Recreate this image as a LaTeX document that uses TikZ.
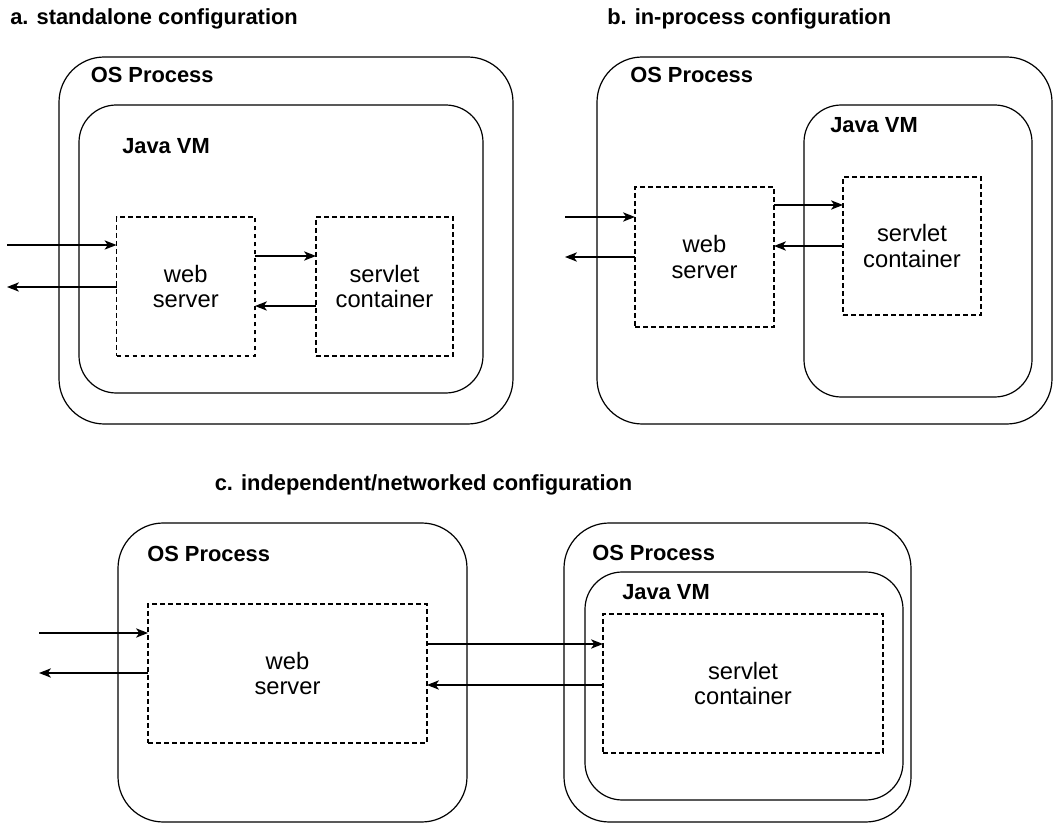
\documentclass[tikz,border=0pt]{standalone}
\usepackage{fontspec}
\setmainfont{Liberation Sans}
\usetikzlibrary{arrows.meta,fit}
\begin{document}
\begin{tikzpicture}[x=0.75pt,y=-0.75pt,
  box/.style={draw, line width=0.9pt, inner sep=0pt, outer sep=0pt},
  osbox/.style={box, rounded corners=34pt},
  vmbox/.style={box, rounded corners=28pt},
  compbox/.style={box, dash pattern=on 3.6pt off 2.4pt},
  title/.style={font=\fontsize{16.4}{19}\selectfont\bfseries, anchor=base west, inner sep=0pt},
  head/.style={title},
  lbl/.style={font=\fontsize{17.8}{18.8}\selectfont, align=center, inner sep=0pt},
  arr/.style={-{Stealth[length=9pt,width=7pt,inset=2.5pt]}, line width=0.9pt}
]
\useasboundingbox (0,0) rectangle (1058,823);

% ---------- panel a ----------
\node[title] (a-t) at (10,25) {a. standalone configuration};
\node[osbox, fit={(59,57) (513,424)}] (a-os) {};
\node[vmbox, fit={(79,105) (483,393)}] (a-vm) {};
\node[compbox, fit={(116.5,217) (255,356)}] (a-ws) {};
\node[compbox, fit={(316,217) (453,356)}] (a-sc) {};
\node[head] (a-osl) at (90.5,83) {OS Process};
\node[head] (a-vml) at (122,154) {Java VM};
\node[lbl] (a-wsl) at (a-ws.center) {web\\server};
\node[lbl] (a-scl) at (a-sc.center) {servlet\\container};
\coordinate (a-in) at (7,245);
\coordinate (a-out) at (7,287);
\draw[arr] (a-in) -- (a-in -| a-ws.west);
\draw[arr] (a-out -| a-ws.west) -- (a-out);
\draw[arr] (a-ws.east |- 0,256) -- (a-sc.west |- 0,256);
\draw[arr] (a-sc.west |- 0,306) -- (a-ws.east |- 0,306);

% ---------- panel b ----------
\node[title] (b-t) at (607,25) {b. in-process configuration};
\node[osbox, fit={(597,57) (1052,424)}] (b-os) {};
\node[vmbox, fit={(804,105) (1032,397)}] (b-vm) {};
\node[compbox, fit={(635,187) (774,327)}] (b-ws) {};
\node[compbox, fit={(843,177) (981,315)}] (b-sc) {};
\node[head] (b-osl) at (630,83) {OS Process};
\node[head] (b-vml) at (830,133) {Java VM};
\node[lbl] (b-wsl) at (b-ws.center) {web\\server};
\node[lbl] (b-scl) at (b-sc.center) {servlet\\container};
\coordinate (b-in) at (565,217);
\coordinate (b-out) at (565,257);
\draw[arr] (b-in) -- (b-in -| b-ws.west);
\draw[arr] (b-out -| b-ws.west) -- (b-out);
\draw[arr] (b-ws.east |- 0,205) -- (b-sc.west |- 0,205);
\draw[arr] (b-sc.west |- 0,246) -- (b-ws.east |- 0,246);

% ---------- panel c ----------
\node[title] (c-t) at (214.5,491) {c. independent/networked configuration};
\node[osbox, fit={(118,523) (467,822)}] (c-os1) {};
\node[compbox, fit={(148,604) (427,743)}] (c-ws) {};
\node[head] (c-osl1) at (147,562) {OS Process};
\node[lbl] (c-wsl) at (c-ws.center) {web\\server};

\node[osbox, fit={(564,523) (911,822)}] (c-os2) {};
\node[vmbox, fit={(585,572) (903,800)}] (c-vm) {};
\node[compbox, fit={(603,614) (883,753)}] (c-sc) {};
\node[head] (c-osl2) at (592,561) {OS Process};
\node[head] (c-vml) at (622,600) {Java VM};
\node[lbl] (c-scl) at (c-sc.center) {servlet\\container};

\coordinate (c-in) at (39,633);
\coordinate (c-out) at (39,673);
\draw[arr] (c-in) -- (c-in -| c-ws.west);
\draw[arr] (c-out -| c-ws.west) -- (c-out);
\draw[arr] (c-ws.east |- 0,644) -- (c-sc.west |- 0,644);
\draw[arr] (c-sc.west |- 0,685) -- (c-ws.east |- 0,685);
\end{tikzpicture}
\end{document}
